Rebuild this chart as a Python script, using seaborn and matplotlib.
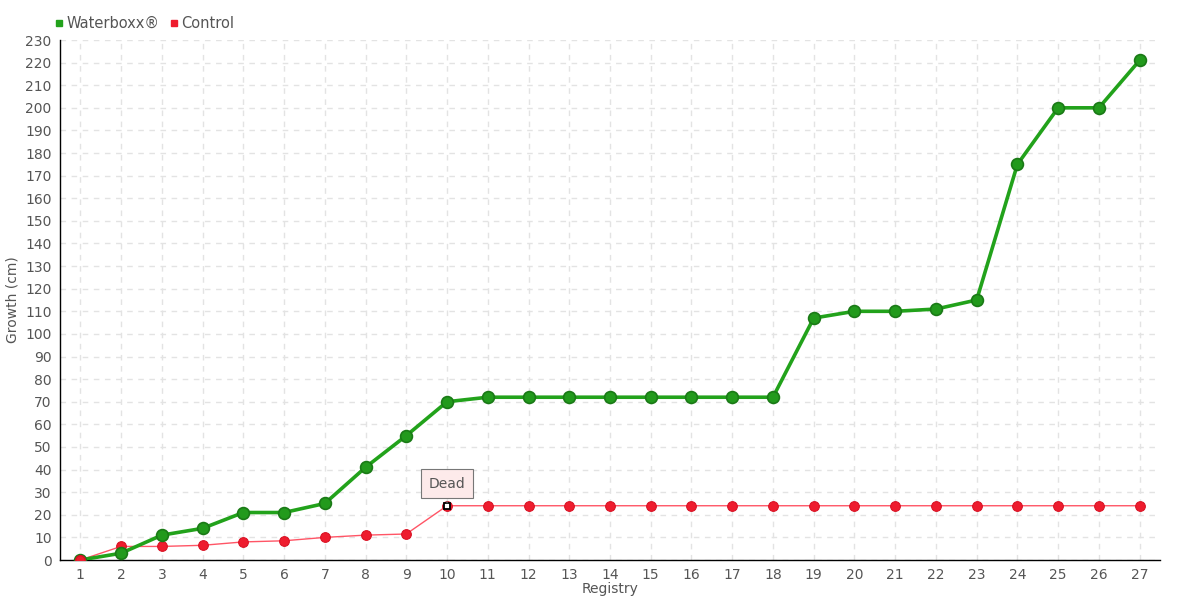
import numpy as np
import pandas as pd
import matplotlib
matplotlib.use("Agg")
import matplotlib.pyplot as plt
import seaborn as sns
from matplotlib.lines import Line2D

# chart values
registry = list(range(1, 28))
waterboxx = [0, 3, 11, 14, 21, 21, 25, 41, 55, 70, 72, 72, 72, 72, 72, 72, 72, 72,
             107, 110, 110, 111, 115, 175, 200, 200, 221]
control = [0, 6, 6, 6.5, 8, 8.5, 10, 11, 11.5, 24, 24, 24, 24, 24, 24, 24, 24, 24,
           24, 24, 24, 24, 24, 24, 24, 24, 24]
y_ticks = list(range(0, 231, 10))

GREEN = "#22a21b"
GREEN_DARK = "#1a7a16"
RED = "#ee1c2e"
TEXT = "#555555"

sns.set_style("white")
plt.rcParams['font.family'] = ['DejaVu Sans']

df = pd.DataFrame({"Registry": registry, "Waterboxx": waterboxx, "Control": control})

fig = plt.figure(figsize=(11.8, 6), dpi=100)
ax = fig.add_axes([60 / 1180, 40 / 600, 1100 / 1180, 520 / 600])

sns.lineplot(data=df, x="Registry", y="Control", ax=ax, color="#ff5566", lw=1,
             marker="o", markersize=7, markerfacecolor=RED, markeredgecolor="#d81022",
             zorder=3)
sns.lineplot(data=df, x="Registry", y="Waterboxx", ax=ax, color=GREEN, lw=2.6,
             marker="o", markersize=8.5, markerfacecolor="#229a1c", markeredgecolor=GREEN_DARK,
             markeredgewidth=1.2, zorder=4)
# red start point on top
ax.plot(registry[0], control[0], "o", ms=7, color=RED, mec="#d81022", zorder=5)

# "Dead" marker and callout at registry 10
i = 9
ax.plot(registry[i], control[i], "s", ms=4.5, mfc="white", mec="black", mew=1.3, zorder=6)
ax.annotate("Dead", xy=(registry[i], control[i]), xytext=(0, 16), textcoords="offset points",
            ha="center", va="center", fontsize=10, color=TEXT,
            bbox=dict(boxstyle="square,pad=0.55", fc="#fdeaea", ec="#777777", lw=0.8),
            arrowprops=dict(arrowstyle="-", color="#777777", lw=0.8), zorder=7)

ax.set_xlim(0.5, 27.5)
ax.set_ylim(0, 230)
ax.set_xticks(registry)
ax.set_yticks(y_ticks)
ax.tick_params(axis="both", colors=TEXT, labelsize=10, length=4, width=1,
               color="black", direction="out", pad=2)
ax.grid(True, color="#e3e3e3", linestyle=(0, (4, 4)), lw=1)
for side in ["top", "right"]:
    ax.spines[side].set_visible(False)
for side in ["left", "bottom"]:
    ax.spines[side].set_color("black")
    ax.spines[side].set_linewidth(1)

ax.set_xlabel("Registry", color=TEXT, fontsize=10, labelpad=0)
ax.set_ylabel("Growth (cm)", color=TEXT, fontsize=10, labelpad=4)

handles = [Line2D([], [], ls="", marker="s", ms=5, color=GREEN, label="Waterboxx®"),
           Line2D([], [], ls="", marker="s", ms=5, color=RED, label="Control")]
fig.legend(handles=handles, loc="upper left", bbox_to_anchor=(40 / 1180, 1 - 3 / 600),
           ncol=2, frameon=False, fontsize=10.5, handletextpad=0.1, columnspacing=0.6,
           handlelength=0.8, labelcolor=TEXT)

fig.savefig("out.png", dpi=100)
